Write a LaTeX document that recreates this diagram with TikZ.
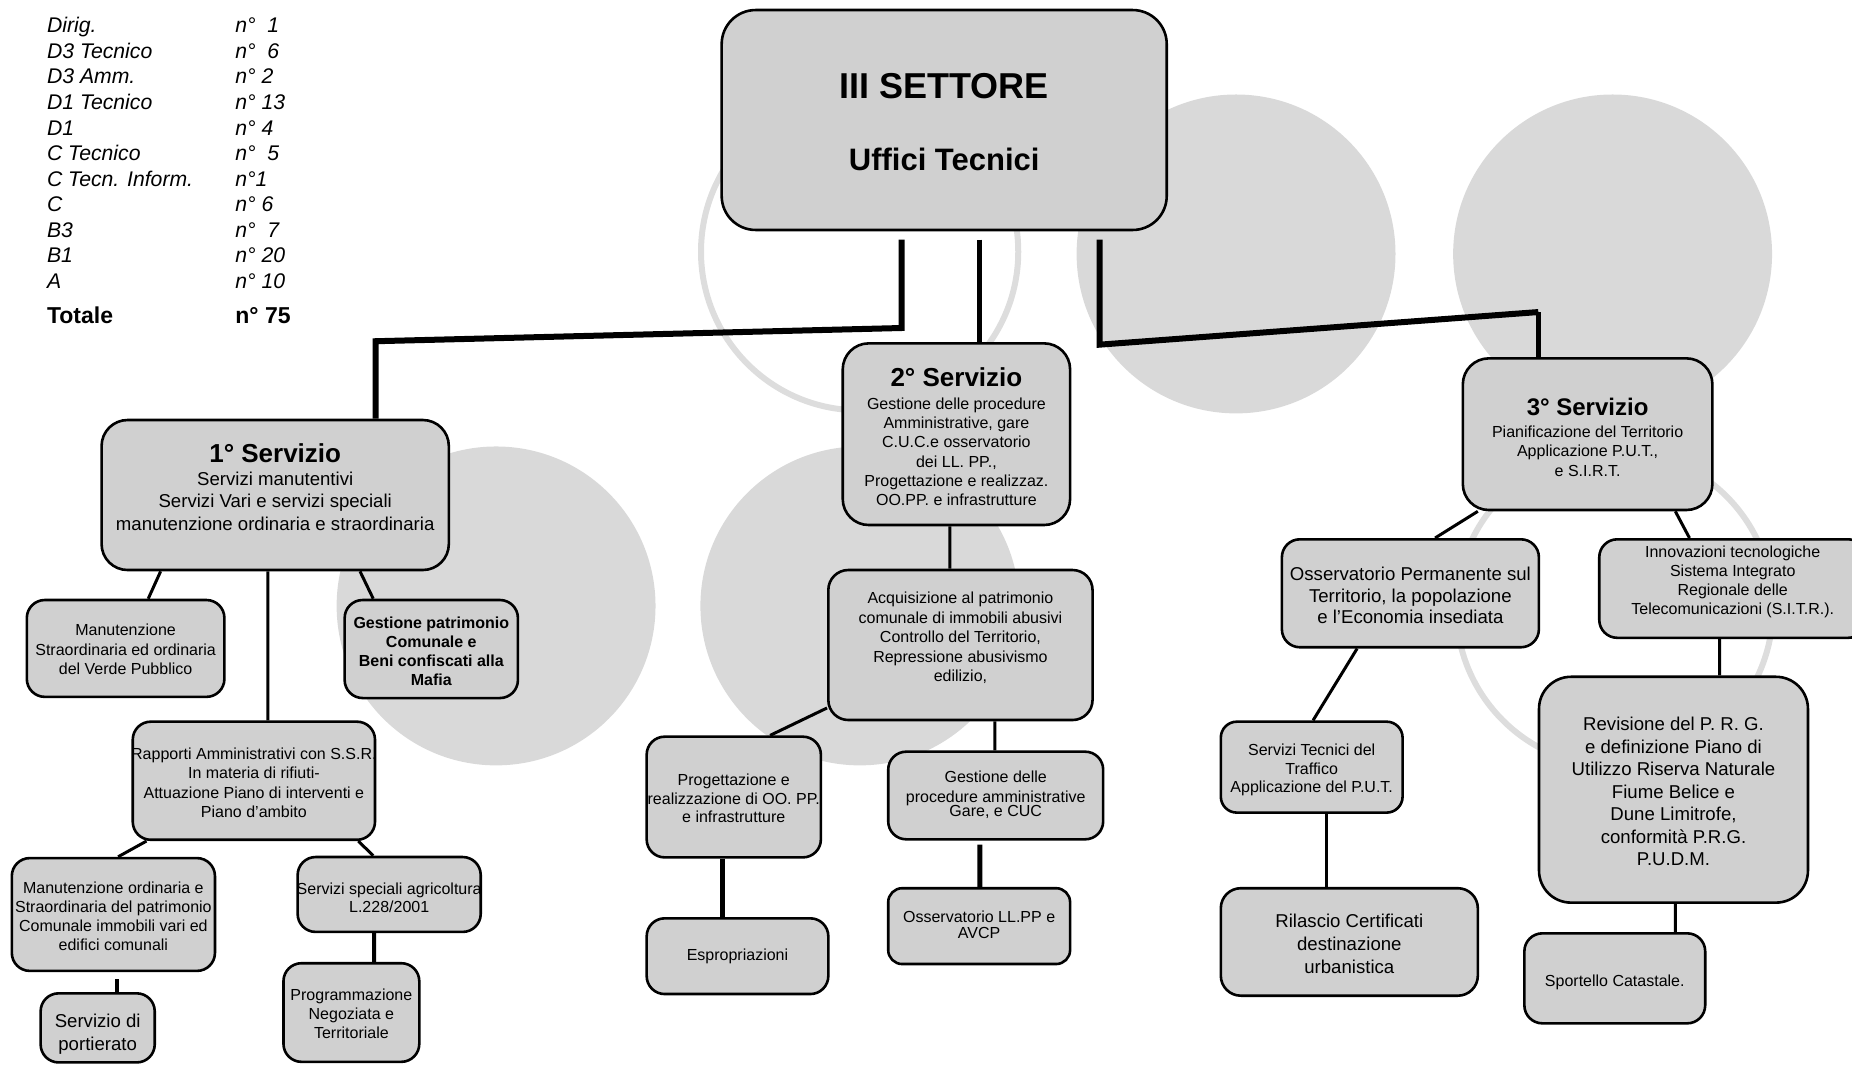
\documentclass[tikz,border=0pt]{standalone}
\usepackage{fontspec}
\setmainfont{Liberation Sans}
\usetikzlibrary{fit,calc}
\definecolor{boxgray}{RGB}{208,208,208}
\definecolor{circgray}{RGB}{217,217,217}
\definecolor{ringgray}{RGB}{221,221,221}
\tikzset{
  ubox/.style={draw=black, line width=1.3pt, fill=boxgray, rounded corners=9pt, inner sep=0pt},
  bigbox/.style={ubox, rounded corners=13pt},
  txt/.style={align=center, inner sep=0pt, anchor=north, font=\fontsize{8}{9.6}\selectfont},
  mtxt/.style={txt, font=\fontsize{9.3}{11.2}\selectfont},
  link/.style={line width=1.5pt},
  trunk/.style={line width=3pt},
  legtxt/.style={inner sep=0pt, anchor=base west, font=\fontsize{10.6}{12.8}\selectfont\itshape},
}
\begin{document}
\begin{tikzpicture}[x=0.5906pt,y=0.5906pt,yscale=-1,xscale=1]
\useasboundingbox (0,0) rectangle (1568,901.7);

%Shape: Circles
\fill[circgray] (1046.5,215) circle[radius=135];
\fill[circgray] (1365.3,215) circle[radius=135];
\fill[circgray] (420,513) circle[radius=135];
\fill[circgray] (728,513) circle[radius=135];
\draw[ringgray, line width=3pt] (727.8,213.1) circle[radius=134.3];
\draw[ringgray, line width=3pt] (1367,515) circle[radius=134];

% Staff list
\foreach \lab/\nr [count=\i] in {Dirig./{n°\ \ 1}, D3 Tecnico/{n°\ \ 6}, D3 Amm./{n° 2}, D1 Tecnico/{n° 13}, D1/{n° 4}, C Tecnico/{n°\ \ 5}, C Tecn. Inform./{n°1}, C/{n° 6}, B3/{n°\ \ 7}, B1/{n° 20}, A/{n° 10}}
{
  \node[legtxt] (lab\i) at (39.5,{27.7+21.65*(\i-1)}) {\lab};
  \node[legtxt] (nr\i) at (199,{27.7+21.65*(\i-1)}) {\nr};
}
\node[legtxt, font=\fontsize{11.5}{13}\selectfont\bfseries] (tot) at (39.5,273.7) {Totale};
\node[legtxt, font=\fontsize{11.5}{13}\selectfont\bfseries] (totnr) at (199,273.7) {n° 75};

%Shape: Boxes
\node[ubox, rounded corners=17pt, fit={(611,8.5) (987.8,194.7)}] (main) {};
\node[bigbox, fit={(86,355.6) (380,482.6)}] (serv1) {};
\node[ubox, fit={(22.7,508) (190,590)}] (verde) {};
\node[ubox, fit={(291.8,508) (438.5,591)}] (gest) {};
\node[ubox, fit={(112.4,611) (317.5,711)}] (rapp) {};
\node[ubox, fit={(10,726.5) (182,822)}] (manord) {};
\node[ubox, fit={(252,725.6) (407,789)}] (servspec) {};
\node[ubox, fit={(34.4,841) (131,899.5)}] (portierato) {};
\node[ubox, fit={(240,815.5) (355,899)}] (progr) {};
\node[bigbox, fit={(713.5,290.7) (906,444.5)}] (serv2) {};
\node[ubox, rounded corners=10pt, fit={(701.3,482.6) (925,609.6)}] (acq) {};
\node[ubox, fit={(547.5,623.7) (695,725.9)}] (prog) {};
\node[ubox, fit={(547.5,777.5) (701.3,841.6)}] (esprop) {};
\node[ubox, fit={(752,636.4) (934,710.6)}] (gestproc) {};
\node[ubox, rounded corners=7pt, fit={(752,752) (906,816.2)}] (oss) {};
\node[bigbox, fit={(1238.5,303.4) (1449.8,431.8)}] (serv3) {};
\node[ubox, fit={(1085.3,456.6) (1302.9,548)}] (ossperm) {};
\node[ubox, fit={(1354,456.6) (1580,540)}] (innov) {};
\node[ubox, rounded corners=8pt, fit={(1033.6,611) (1187.5,688)}] (servtec) {};
\node[ubox, rounded corners=10pt, fit={(1033.6,752) (1251.2,843)}] (rilascio) {};
\node[ubox, rounded corners=16pt, fit={(1303,573) (1530.7,764.2)}] (revis) {};
\node[ubox, fit={(1290.6,790.2) (1443.7,866.4)}] (sport) {};

%Straight Lines
\draw[trunk] ($(main.south)+(-36,7.1)$) -- ++(0,74.8) -- ($(serv1.north)+(85,-65.6)$) -- ($(serv1.north)+(85,0)$);
\draw[trunk, line width=2.3pt] ($(main.south)+(30.1,7.1)$) -- ($(serv2.north)+(19.75,0)$);
\coordinate (elbow3) at ($(serv3.north)+(-41.75,-38.1)$);
\draw[trunk] ($(main.south)+(131.6,7.1)$) -- ++(0,88.9) -- (elbow3);
\draw[link, line width=2.2pt] (elbow3) -- (serv3.north -| elbow3);

\draw[link] ($(serv1.south)+(-97,0)$) -- ($(verde.north)+(19.15,0)$);
\draw[link] ($(serv1.south)+(-6.2,0)$) -- ($(rapp.north)+(11.85,0)$);
\draw[link] ($(serv1.south)+(71.8,0)$) -- ($(gest.north)+(-49.15,0)$);
\draw[link] ($(rapp.south)+(-90.95,0)$) -- ($(manord.north)+(4,0)$);
\draw[link] ($(rapp.south)+(88.45,0)$) -- ($(servspec.north)+(-13.5,0)$);
\draw[link, line width=2pt] ($(manord.south)+(2.8,6)$) -- ($(portierato.north)+(16.1,0)$);
\draw[link, line width=2pt] ($(servspec.south)+(-12.8,0)$) -- ($(progr.north)+(19.2,0)$);

\draw[link] ($(serv2.south)+(-5.45,0)$) -- ($(acq.north)+(-8.85,0)$);
\draw[link] ($(acq.south west)+(0,-11.3)$) -- ($(prog.north)+(30.75,0)$);
\draw[link] ($(acq.south)+(29.25,0)$) -- ($(gestproc.north)+(-0.6,0)$);
\draw[link, line width=2.5pt] ($(prog.south)+(-9.35,0)$) -- ($(esprop.north)+(-12.5,0)$);
\draw[link, line width=2.5pt] ($(gestproc.south)+(-13.3,3.4)$) -- ($(oss.north)+(0.7,0)$);

\draw[link] ($(serv3.south)+(-92.95,0)$) -- ($(ossperm.north)+(20.9,0)$);
\draw[link] ($(serv3.south)+(74.25,0)$) -- ($(innov.north)+(-36.6,0)$);
\draw[link] ($(ossperm.south)+(-45.1,0)$) -- ($(servtec.north)+(1.15,0)$);
\draw[link] ($(servtec.south)+(12.85,0)$) -- ($(rilascio.north)+(-19,0)$);
\draw[link] ($(innov.south)+(-11,0)$) -- ($(revis.north)+(39.15,0)$);
\draw[link] ($(revis.south)+(1.55,0)$) -- ($(sport.north)+(51.25,0)$);

% Text Node
\node[txt, font=\bfseries\fontsize{18}{36}\selectfont] (main-t) at (799.4,61.5) {III SETTORE\\{\fontsize{15.5}{18}\selectfont Uffici Tecnici}};
% Text Node
\node[mtxt, font=\fontsize{9.3}{11.1}\selectfont] (serv1-t) at (233,375.4) {{\bfseries\fontsize{13}{15}\selectfont 1° Servizio}\\[0.4pt]Servizi manutentivi\\Servizi Vari e servizi speciali\\manutenzione ordinaria e straordinaria};
% Text Node
\node[txt, font=\fontsize{8}{9.7}\selectfont] (verde-t) at (106.35,528.2) {Manutenzione\\Straordinaria ed ordinaria\\del Verde Pubblico};
% Text Node
\node[txt, font=\bfseries\fontsize{8}{9.5}\selectfont] (gest-t) at (365.15,522) {Gestione patrimonio\\Comunale e\\Beni confiscati alla\\Mafia};
% Text Node
\node[txt] (rapp-t) at (214.95,633) {Rapporti Amministrativi con S.S.R.\\In materia di rifiuti-\\Attuazione Piano di interventi e\\Piano d’ambito};
% Text Node
\node[txt] (manord-t) at (96,745.9) {Manutenzione ordinaria e\\Straordinaria del patrimonio\\Comunale immobili vari ed\\edifici comunali};
% Text Node
\node[txt, font=\fontsize{8}{8.9}\selectfont] (servspec-t) at (329.5,747.2) {Servizi speciali agricoltura\\L.228/2001};
% Text Node
\node[mtxt] (portierato-t) at (82.7,858.5) {Servizio di\\portierato};
% Text Node
\node[txt, font=\fontsize{8}{9.5}\selectfont] (progr-t) at (297.5,837.2) {Programmazione\\Negoziata e\\Territoriale};

% Text Node
\node[txt] (serv2-t) at (809.75,311) {{\bfseries\fontsize{13}{15}\selectfont 2° Servizio}\\[1.9pt]Gestione delle procedure\\Amministrative, gare\\C.U.C.e osservatorio\\dei LL. PP.,\\Progettazione e realizzaz.\\OO.PP. e infrastrutture};
% Text Node
\node[txt, font=\fontsize{8}{9.7}\selectfont] (acq-t) at (813.15,501.2) {Acquisizione al patrimonio\\comunale di immobili abusivi\\Controllo del Territorio,\\Repressione abusivismo\\edilizio,};
% Text Node
\node[txt, font=\fontsize{8}{9.4}\selectfont] (prog-t) at (621.25,654.7) {Progettazione e\\realizzazione di OO. PP.\\e infrastrutture};
% Text Node
\node[txt] (esprop-t) at (624.4,802.9) {Espropriazioni};
% Text Node
\node[txt, font=\fontsize{8}{10}\selectfont] (gestproc-t) at (843,652.2) {Gestione delle\\procedure amministrative\\[-3pt]Gare, e CUC};
% Text Node
\node[txt, font=\fontsize{8}{7.8}\selectfont] (oss-t) at (829,770.8) {Osservatorio LL.PP e\\AVCP};

% Text Node
\node[txt, font=\fontsize{8}{9.75}\selectfont] (serv3-t) at (1344.15,336.4) {{\bfseries\fontsize{12}{14}\selectfont 3° Servizio}\\[1.2pt]Pianificazione del Territorio\\Applicazione P.U.T.,\\e S.I.R.T.};
% Text Node
\node[mtxt, font=\fontsize{9.3}{10.85}\selectfont] (ossperm-t) at (1194.1,479.8) {Osservatorio Permanente sul\\Territorio, la popolazione\\e l’Economia insediata};
% Text Node
\node[txt, font=\fontsize{8}{9.45}\selectfont] (innov-t) at (1467,462.2) {Innovazioni tecnologiche\\Sistema Integrato\\Regionale delle\\Telecomunicazioni (S.I.T.R.).};
% Text Node
\node[txt, font=\fontsize{8}{9.4}\selectfont] (servtec-t) at (1110.55,629.4) {Servizi Tecnici del\\Traffico\\Applicazione del P.U.T.};
% Text Node
\node[mtxt, font=\fontsize{9.3}{11.3}\selectfont] (rilascio-t) at (1142.4,773.9) {Rilascio Certificati\\destinazione\\urbanistica};
% Text Node
\node[mtxt, font=\fontsize{9.3}{11.25}\selectfont] (revis-t) at (1416.85,606.8) {Revisione del P. R. G.\\e definizione Piano di\\Utilizzo Riserva Naturale\\Fiume Belice e\\Dune Limitrofe,\\conformità P.R.G.\\P.U.D.M.};
% Text Node
\node[txt] (sport-t) at (1367.15,824.9) {Sportello Catastale.};

\end{tikzpicture}
\end{document}
